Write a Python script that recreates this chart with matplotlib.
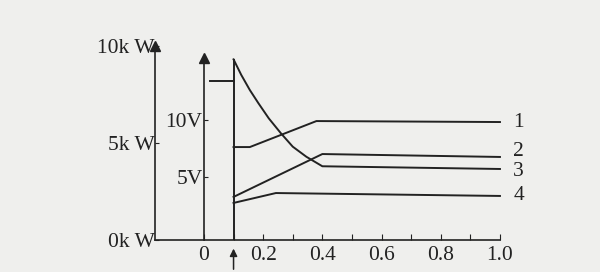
import matplotlib.pyplot as plt

plt.rcParams['font.family'] = ['Liberation Serif', 'DejaVu Serif']

# 曲线数据 (时间 s, 纵坐标按 kW 刻度读取)
t1 = [0.1, 0.155, 0.38, 1.0]
p1 = [4.79, 4.79, 6.13, 6.08]
t2 = [0.1, 0.40, 1.0]
p2 = [2.22, 4.43, 4.28]
t3 = [0.1, 0.126, 0.155, 0.184, 0.219, 0.26, 0.30, 0.346, 0.40, 1.0]
p3 = [9.31, 8.51, 7.73, 7.05, 6.27, 5.50, 4.81, 4.29, 3.80, 3.66]
t4 = [0.1, 0.243, 1.0]
p4 = [1.91, 2.42, 2.27]
t_pre = [0.02, 0.1]
p_pre = [8.2, 8.2]
t_fault = 0.1

curve_names = ['1', '2', '3', '4']
name_y = [6.08, 4.54, 3.51, 2.27]

x_ticks = [0, 0.1, 0.2, 0.3, 0.4, 0.5, 0.6, 0.7, 0.8, 0.9, 1.0]
x_labels = ['0', '', '0.2', '', '0.4', '', '0.6', '', '0.8', '', '1.0']
kw_ticks = [0, 5, 10]
kw_labels = ['0k W', '5k W', '10k W']
v_ticks = [5, 10]
v_labels = ['5V', '10V']

ink = '#222222'
bg = '#efefed'
fs = 15.5

fig = plt.figure(figsize=(6, 2.72), dpi=100, facecolor=bg)
ax = fig.add_axes([0, 0, 1, 1], facecolor=bg)
ax.set_xlim(-0.689, 1.338)
ax.set_ylim(-1.65, 12.37)

kw_x = -0.166  # 功率轴位置
for s in ['top', 'right']:
    ax.spines[s].set_visible(False)
ax.spines['left'].set_position(('data', kw_x))
ax.spines['left'].set_bounds(0, 10)
ax.spines['bottom'].set_position(('data', 0))
ax.spines['bottom'].set_bounds(kw_x, 1.0)
for s in ['left', 'bottom']:
    ax.spines[s].set_color(ink)
    ax.spines[s].set_linewidth(1.2)

ax.set_xticks(x_ticks)
ax.set_xticklabels(x_labels, fontsize=fs, color=ink)
ax.set_yticks(kw_ticks)
ax.set_yticklabels(kw_labels, fontsize=fs, color=ink)
ax.tick_params(axis='x', direction='in', length=4, pad=4, colors=ink)
ax.tick_params(axis='y', direction='in', length=3, pad=0, colors=ink)

# 电压轴 (t = 0 处)
def kw2v(p):
    return (p - 0.31) * 1.70

ax2 = ax.twinx()
ax2.set_ylim(kw2v(-1.65), kw2v(12.37))
for s in ['top', 'right', 'bottom']:
    ax2.spines[s].set_visible(False)
ax2.spines['left'].set_position(('data', 0))
ax2.spines['left'].set_bounds(kw2v(0), kw2v(9.38))
ax2.spines['left'].set_color(ink)
ax2.spines['left'].set_linewidth(1.2)
ax2.yaxis.set_ticks_position('left')
ax2.set_yticks(v_ticks)
ax2.set_yticklabels(v_labels, fontsize=fs, color=ink)
ax2.tick_params(axis='y', direction='in', length=3, pad=1, colors=ink)

# 箭头
ax.plot([kw_x], [10], marker='^', ms=7, color=ink, clip_on=False)
ax.plot([0], [9.38], marker='^', ms=7, color=ink, clip_on=False)
ax.annotate('', xy=(t_fault, -0.3), xytext=(t_fault, -1.65),
            arrowprops=dict(arrowstyle='-|>', lw=1.1, color=ink, mutation_scale=11),
            annotation_clip=False)

lw = 1.4
ax.plot(t_pre, p_pre, color=ink, lw=lw)
ax.vlines(t_fault, 0, p3[0], color=ink, lw=lw)
for t, p in [(t1, p1), (t2, p2), (t3, p3), (t4, p4)]:
    ax.plot(t, p, color=ink, lw=lw)

for name, y in zip(curve_names, name_y):
    ax.text(1.045, y, name, fontsize=fs, color=ink, va='center', ha='left')

fig.savefig('out.png', dpi=100, facecolor=bg)
